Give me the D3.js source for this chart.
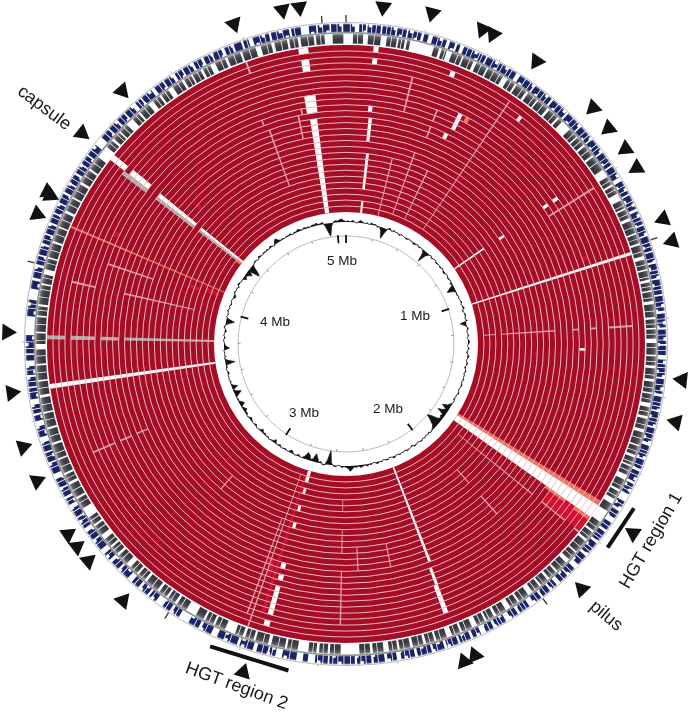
<!DOCTYPE html>
<html>
<head>
<meta charset="utf-8">
<script src="https://cdn.jsdelivr.net/npm/d3@7"></script>
<style>
    body { margin: 0; background: #fff; }
    svg { display: block; filter: blur(0.4px); }
    text { font-family: "Liberation Sans", Arial, sans-serif; fill: #1a1a1a; }
</style>
</head>
<body>
<div class="ring-container"></div>
<script>
// Data, positions are degrees clockwise round the map
const genomeMb = 5.06;
const ringCount = 28;
const mbTicks = [0, 1, 2, 3, 4, 5];
const mbLabels = ['', '1 Mb', '2 Mb', '3 Mb', '4 Mb', '5 Mb'];
const minorTicks = [0.2, 0.4, 0.6, 0.8, 1.2, 1.4, 1.6, 1.8, 2.2, 2.4, 2.6, 2.8, 3.2, 3.4, 3.6, 3.8, 4.2, 4.4, 4.6, 4.8];

// [start, end, first ring, last ring], ring 0 is the outermost
const whiteGaps = [
    [350.9, 352.7, 12, 27], [350.4, 353, 8, 10], [350.8, 352.7, 0, 0], [351, 352.6, 2, 3],
    [6.1, 7, 26, 27], [6, 6.9, 18, 23], [5.7, 6.6, 12, 15], [5.4, 6.4, 10, 10], [5.3, 6.3, 0, 0], [5.3, 6.3, 2, 2],
    [72.1, 72.7, 0, 27], [55, 55.6, 22, 27], [122.6, 125.3, 0, 27],
    [158.6, 159.3, 11, 27], [159, 159.7, 7, 9], [159.1, 160.1, 2, 6],
    [195.3, 196.7, 26, 27], [195.3, 196.3, 24, 24], [195.4, 196.4, 21, 21], [195.4, 196.4, 18, 18],
    [195.2, 196.4, 11, 11], [195, 196.2, 9, 9], [195.1, 196.2, 3, 7], [195.2, 196.4, 1, 1],
    [261.4, 262.3, 0, 27],
    [308, 309.2, 0, 2], [308, 309.3, 4, 7], [308, 309, 10, 17], [308, 308.9, 19, 27],
    [37.2, 37.9, 2, 2], [26, 27, 7, 9], [25, 26, 11, 11], [21, 22, 1, 1],
    [55, 55.8, 7, 7], [55, 55.8, 9, 9], [55.2, 56, 18, 18], [91, 91.6, 10, 10]
];
const greyBlocks = [
    [270.9, 271.7, 0, 2], [270.9, 271.7, 4, 7], [270.9, 271.7, 9, 11], [270.9, 271.7, 13, 27],
    [307.1, 308, 3, 7], [307.2, 308, 10, 17], [307.3, 308, 19, 26]
];
const paleLines = [
    [13.8, 14.2, 4, 9], [13.8, 14.2, 18, 27], [25, 25.4, 18, 26], [19.6, 20, 16, 26], [33.8, 34.1, 1, 26],
    [340.1, 340.5, 12, 21], [340.3, 340.7, 0, 1], [128.7, 129, 10, 25], [128.7, 129, 3, 7], [128.7, 129.1, 0, 0],
    [138.3, 138.7, 19, 21], [138.2, 138.6, 12, 15], [199, 199.3, 0, 26], [200, 200.3, 2, 18],
    [181, 181.3, 15, 18], [181, 181.3, 3, 11], [181, 181.3, 22, 23], [176.8, 177.1, 12, 15], [168.5, 168.8, 12, 15],
    [246.6, 247, 4, 7], [246.6, 247, 9, 10], [246.6, 247, 12, 13], [220.6, 221, 18, 20],
    [282.6, 283, 3, 6], [282.6, 283, 12, 23], [288.4, 288.8, 8, 15], [57.6, 58, 1, 9],
    [86.2, 86.6, 15, 20], [86.2, 86.6, 21, 23], [86.2, 86.6, 25, 26], [86.2, 86.6, 11, 11], [86.2, 86.6, 8, 8], [86.2, 86.6, 2, 5],
    [348, 348.4, 11, 14], [339.2, 339.6, 10, 10], [349, 349.4, 10, 10], [21.1, 21.5, 8, 9], [21.1, 21.5, 11, 12]
];
const salmonBlocks = [
    [292.9, 293.3, 0, 27], [121.6, 122.6, 0, 27], [125.3, 126, 0, 2], [125.3, 125.9, 5, 8],
    [27.8, 28.8, 7, 7], [306.8, 308.2, 27, 27]
];
const brightBlocks = [
    [351.5, 352.2, 3, 3], [196.8, 197.6, 3, 26], [198, 200, 11, 11], [198, 199, 9, 10], [294.9, 296.1, 7, 7],
    [289.8, 291, 22, 23], [290.5, 292, 25, 26], [312.5, 313.5, 16, 16], [69.8, 70.8, 7, 7], [125.4, 128.6, 0, 7]
];

// White gaps between genes in the two outer tracks
const blueGaps = [
    [342.2, 343], [346, 346.4], [349.7, 350.1], [351.8, 353.3], [354.6, 354.9], [357, 357.3], [359.2, 359.5], [1.6, 2.4], [3.6, 3.9],
    [6.3, 6.6], [9, 9.3], [11, 11.3], [13.7, 14.2], [15, 15.8], [18.4, 19], [20, 20.4], [21, 21.7], [26, 26.3], [32.2, 33], [36, 36.3],
    [40, 40.4], [43.6, 44], [47, 47.3], [50, 50.3], [53, 53.3], [56, 56.3], [58.6, 59.4], [62, 62.3], [65, 65.5], [68, 68.3], [70, 70.3],
    [73, 73.3], [75, 75.4], [78, 78.3], [81, 81.3], [84, 84.5], [87, 87.4], [90, 90.3], [92, 92.8], [96, 96.3], [99, 99.5], [102, 102.3],
    [105, 105.3], [108, 108.6], [111, 111.3], [113, 113.5], [115.5, 116], [118, 119.5], [121, 121.5], [123, 124], [125.5, 126], [128, 128.5],
    [131, 131.5], [133.5, 134.5], [136, 136.3], [138, 138.8], [140, 140.4], [142, 142.4], [144, 145], [147, 147.5], [149, 150], [152, 152.5],
    [154, 155], [156.5, 157], [159, 159.4], [161.5, 162], [164, 164.4], [167, 167.5], [170, 170.8], [172.5, 173], [175, 175.4], [178, 178.4],
    [183, 183.3], [185.6, 186.9], [187.8, 189], [191.6, 192.8], [194, 194.3], [196.3, 197], [199.5, 200], [203.8, 205], [207, 207.5],
    [209.5, 211.5], [213, 213.5], [215, 216.5], [218, 218.4], [220, 220.5], [222, 223], [225, 225.4], [227, 227.6], [229, 230], [232, 232.3],
    [234, 234.8], [237, 237.3], [239, 239.8], [241, 241.5], [243, 243.3], [245, 246], [248, 248.3], [250, 250.3], [252, 253], [255, 256],
    [257, 257.4], [259, 260], [262, 262.3], [264, 264.4], [266, 267], [268, 268.3], [271.6, 275], [278, 280], [281.5, 282], [284, 284.5],
    [286, 286.3], [288, 288.4], [290, 290.3], [292, 292.4], [294, 294.3], [296, 296.3], [298, 298.4], [300, 300.3], [302, 302.4], [304, 304.3],
    [306, 306.3], [308.5, 310.2], [312, 312.3], [314, 314.4], [316, 316.3], [318, 318.8], [320, 320.3], [322.5, 323.2], [325, 325.3],
    [327, 327.6], [329, 329.3], [331, 331.5], [333, 333.5], [335, 335.3], [337, 337.6], [339, 339.4], [340.8, 341.2]
];
const greyGaps = [
    [337, 337.5], [340, 340.4], [343, 344], [346, 346.6], [349, 349.4], [351, 351.5], [354, 354.4], [356, 357.5], [359.5, 360], [0, 1.3],
    [3.2, 4.1], [6.5, 7.6], [9.5, 9.8], [11, 11.4], [12, 16.5], [17.5, 18], [19, 20], [22, 22.3], [24.3, 24.9], [27, 27.3], [30.4, 31.4],
    [33, 33.4], [35.5, 36], [38, 38.3], [40.5, 41], [43, 43.4], [44.2, 46.2], [48, 48.3], [50, 50.4], [52.5, 52.9], [55.8, 57.4], [59, 59.4],
    [61, 62.4], [64, 64.3], [66, 66.6], [69, 69.3], [71, 71.4], [73.5, 74.2], [76, 76.3], [78, 78.5], [80, 80.3], [82, 82.6], [85, 85.4],
    [87, 87.3], [89, 89.8], [92, 92.3], [94, 94.5], [96.5, 97], [99, 99.3], [101, 101.8], [103.5, 104], [106, 106.6], [109, 109.3], [111, 111.5],
    [113, 113.3], [115, 116], [118, 118.4], [120, 121], [122.6, 125], [127, 127.4], [129, 129.5], [132, 132.3], [134, 134.8], [137, 137.4],
    [139, 139.5], [141, 141.4], [143, 144], [146, 146.4], [148, 149], [151, 151.5], [153, 153.4], [155, 156], [158, 158.4], [160, 161],
    [163, 163.4], [165, 165.5], [167.5, 168], [170, 170.4], [172, 173], [175, 175.5], [177.5, 181], [183, 183.4], [185, 185.5], [187, 189],
    [191, 191.4], [194, 194.6], [197, 197.4], [199, 199.5], [201, 203], [205, 205.4], [207, 207.4], [209, 211], [213, 213.5], [215, 215.4],
    [217, 217.5], [220, 220.5], [222, 222.4], [224, 225], [227, 227.5], [229, 229.4], [231, 232], [234, 234.4], [236, 238], [240, 240.4],
    [243, 243.5], [245, 245.4], [248, 248.3], [251, 251.4], [254, 254.4], [257, 257.3], [260, 260.5], [263, 263.3], [266, 266.3], [269, 270],
    [272, 272.3], [275, 275.3], [277, 277.4], [281, 281.3], [283, 284], [286, 286.3], [289, 289.4], [292, 292.3], [295, 295.5], [298, 298.3],
    [301, 301.5], [304, 304.4], [307, 309.5], [311, 311.5], [313, 313.3], [315, 316.5], [318, 318.4], [320.5, 321.5], [323, 323.4], [325, 326],
    [328, 328.5], [330, 330.3], [332, 332.5], [334, 335]
];

// Finer breaks in the gene tracks
const blueTicks = [
    0.7, 2.9, 4.6, 5.4, 7.3, 8.1, 10.2, 12.1, 12.9, 16.7, 17.6, 22.4, 23.3, 24.7, 25.2, 27.4, 28.6, 29.3, 30.5, 31.2, 34.1, 35.2, 37.4, 38.3, 39.1,
    41.5, 42.4, 45.2, 46.1, 48.3, 49.2, 51.4, 52.1, 54.3, 55.2, 57.4, 60.3, 61.2, 63.4, 64.1, 66.5, 67.2, 69.1, 71.4, 72.2, 74.3, 76.5, 77.2, 79.4,
    80.1, 82.3, 83.2, 85.4, 86.1, 88.3, 89.2, 91.1, 93.5, 94.2, 95.1, 97.3, 98.4, 100.5, 101.2, 103.4, 104.1, 106.3, 107.2, 109.5, 110.1, 112.3,
    114.2, 116.6, 117.3, 120.1, 122.2, 124.7, 126.8, 127.4, 129.6, 130.3, 132.4, 135.2, 137.1, 139.3, 141.2, 143.1, 145.6, 146.3, 148.2, 150.7,
    151.3, 153.2, 155.6, 157.8, 158.4, 160.3, 161.1, 163.2, 165.1, 166.2, 168.3, 169.2, 171.5, 174.1, 176.3, 177.2, 179.1, 180.3, 181.4, 182.3,
    184.1, 185.1, 190.2, 193.4, 195.2, 198.1, 201.3, 202.4, 206.1, 208.3, 212.2, 214.3, 217.4, 219.1, 221.3, 224.2, 226.1, 228.4, 231.1, 233.2,
    235.4, 236.2, 238.3, 240.4, 242.3, 244.2, 247.1, 249.2, 251.3, 254.1, 258.1, 261.2, 263.1, 265.2, 269.1, 270.3, 276.4, 277.2, 283.1, 285.2,
    287.3, 289.1, 291.2, 293.3, 295.1, 297.2, 299.3, 301.1, 303.2, 305.1, 307.2, 311.1, 313.2, 315.1, 317.2, 319.3, 321.2, 324.1, 326.2, 328.1,
    330.2, 332.1, 334.3, 336.2, 338.3, 341.8, 344.2, 345.1, 347.3, 348.4, 350.6, 355.7, 358.3
];
const greyTicks = [
    2.1, 5.2, 8.4, 10.3, 18.6, 21.1, 23.5, 25.8, 28.4, 29.6, 32.1, 34.6, 37.2, 39.4, 42.1, 47.2, 49.1, 51.3, 54.1, 58.2, 60.1, 63.4, 65.2, 67.8, 70.1,
    72.6, 75.1, 77.4, 79.2, 81.3, 83.8, 86.2, 88.1, 90.6, 93.2, 95.7, 98.1, 100.2, 102.6, 105.1, 107.7, 110.2, 112.4, 114.1, 117.2, 119.3, 126.1, 128.3,
    130.8, 133.1, 135.9, 138.2, 140.4, 142.3, 145.1, 147.3, 150.1, 152.4, 154.2, 157.1, 159.3, 162.1, 164.2, 166.3, 169.1, 171.2, 174.1, 176.4, 182.1,
    184.2, 186.1, 190.2, 192.6, 195.5, 198.2, 200.3, 204.1, 206.2, 212.1, 214.3, 216.1, 218.6, 221.1, 223.2, 226.1, 228.3, 230.1, 233.1, 235.2, 239.1,
    241.7, 244.2, 246.6, 249.3, 252.6, 255.7, 258.6, 261.7, 264.6, 267.7, 270.6, 273.6, 276.2, 278.7, 280.1, 282.3, 285.1, 287.6, 290.7, 293.6, 296.7,
    299.6, 302.7, 305.6, 310.3, 312.4, 314.2, 317.3, 319.4, 322.2, 324.2, 327.1, 329.3, 331.2, 333.2, 336.1, 338.7, 341.7, 345.1, 347.8, 350.2, 352.8, 355.2
];
// Notches where a gene does not reach the full height of the blue track
const blueOuterNotches = [
    1.1, 4.1, 8.6, 11.6, 17.1, 23.8, 27.9, 30, 35.7, 38.7, 42.9, 46.6, 49.7, 52.6, 57.9, 60.8, 63.9, 66, 69.6, 74.8, 77.7, 82.8, 85.9, 88.8, 93, 95.6, 97.8,
    101.7, 104.6, 107.7, 110.6, 114.7, 117, 120.6, 127.9, 130.8, 135.7, 139.8, 143.6, 148.7, 151.8, 155.2, 160.8, 163.7, 168.8, 171.9, 176.8, 180.8, 184.6,
    190.7, 193.8, 198.6, 201.8, 206.6, 212.7, 217, 219.6, 224.7, 228, 231.6, 235.9, 238.8, 242.8, 247.6, 251.8, 254.6, 258.6, 263.6, 265.7, 269.6, 276.9,
    283.6, 287.8, 291.7, 295.6, 299.8, 303.7, 307.7, 313.7, 317.7, 321.7, 326.7, 330.7, 334.8, 338.8, 344.7, 347.8, 355.2, 358.8
];
const blueInnerNotches = [
    3.2, 9.7, 12.5, 19.4, 24.2, 28.1, 33.4, 37, 41.1, 44.6, 48.8, 51, 54.8, 59.9, 62.8, 67.7, 71.9, 75.9, 79, 83.7, 86.6, 89.8, 94.7, 98.9, 103, 106.9,
    110.7, 112.9, 116.2, 119.9, 122.8, 129.2, 132.9, 136.6, 141.8, 146.8, 150.3, 153.8, 158, 162.6, 165.7, 169.8, 174.7, 177.7, 181.9, 188, 193, 198.7,
    202, 208.9, 214.8, 218.8, 223.4, 226.6, 233.7, 236.8, 240, 244.7, 249, 253.4, 256.3, 260.3, 264.6, 270.8, 275.4, 280.4, 285.7, 289.6, 293.9, 297.7,
    301.7, 305.6, 311.7, 315.6, 319.8, 324.6, 328.6, 332.7, 336.7, 343.4, 348.9, 353.6, 356.4
];

// GC skew, one value per degree, in half pixels off the baseline
const gcSkew = [
    1, 2, 0, 3, 1, -1, 2, 4, 1, 0,
    2, -1, 3, 1, 2, -2, 0, -6, -18, -8,
    1, 3, -1, 2, 0, 1, -2, 1, 0, -1,
    -2, 1, -1, 0, -3, -1, 1, -2, 0, -1,
    -4, -20, -6, -1, 1, -2, 0, 1, -2, -1,
    0, -2, 1, -1, -3, 0, 1, -2, -1, 1,
    -3, -1, -8, -14, -4, 0, -2, 1, -1, 0,
    2, -1, 1, 3, -2, 0, 2, 1, -1, 3,
    -10, -4, 1, 2, -1, 0, 2, -1, 1, 3,
    1, -1, 2, 0, -2, 1, 3, 0, -1, 2,
    1, -2, 0, 2, -1, 1, 0, 2, -1, 1,
    2, 0, -1, 1, 2, -1, 0, -2, 1, 0,
    -3, -6, -14, -5, -8, -16, -4, -6, -3, -7,
    -18, -24, -14, -6, -3, -1, 1, -2, 0, -1,
    1, -1, 2, 0, -1, 1, 2, -2, 0, 1,
    2, -1, 1, 0, 2, -1, 1, 3, 0, -1,
    2, 1, -1, 2, 0, 3, 1, -1, 2, 1,
    3, 1, 2, 4, 1, 3, 2, 5, 9, 4,
    2, 1, 3, -1, 0, 2, 1, -4, -24, -8,
    1, 2, -3, -1, -8, -14, -4, -2, -9, -12,
    -5, -1, 0, -3, -1, 1, -2, -5, -1, 0,
    -2, -1, 1, -3, -1, 0, -6, -2, -1, 1,
    -2, 0, -3, -1, -5, -2, 0, 1, -3, -1,
    0, -2, -4, -1, 1, -3, -2, -6, -3, -1,
    -8, -5, -1, -2, 0, -6, -12, -4, -1, -10,
    -3, 0, -2, 1, -1, 0, -3, -1, 1, -2,
    -1, -16, -6, 1, -2, 0, -1, 1, -9, -3,
    -1, 0, 1, -2, 1, 0, -3, -1, 2, 0,
    -6, -14, -3, 1, -1, 0, 2, -1, 1, -2,
    0, 1, -1, -4, -1, 2, 0, 1, -2, 3,
    1, -1, 0, -6, -2, -5, -10, -3, -20, -14,
    -3, 0, 2, 1, -1, 3, 1, 0, 2, 1,
    2, 0, 3, 1, -1, 5, 8, 3, 1, 2,
    0, 2, 1, 3, -1, 2, 1, 4, 2, 0,
    3, 1, 2, 0, 3, 2, 4, 1, 2, 3,
    -4, -14, -22, -6, 1, 3, 2, 4, 5, 2
];

// Marker triangles, [position, distance from the centre]
const arrows = [
    [340.7, 339], [349.2, 340], [352.1, 340], [6.3, 339], [14.6, 342], [23.5, 343], [25.4, 343], [34, 341], [46.3, 342], [50.6, 340],
    [55.1, 341], [58.8, 340], [68.5, 341], [72.5, 342], [96.1, 338], [103.3, 339], [123.4, 344], [136.1, 340], [157.5, 337], [159.6, 339],
    [197.4, 344], [221, 340], [229.9, 337], [233, 337], [235.6, 337], [246.1, 338], [252.3, 339], [261.7, 338], [272, 339], [292.8, 335],
    [297, 335], [296.7, 331], [308.6, 338], [318.5, 338]
];
const hgtBars = [[119.7, 127.9], [190, 204.2]];

// Set up the page, the chart is centred on the map origin
const svgWidth = 690;
const svgHeight = 714;
const centre = { x: 346, y: 344 };

const svg = d3.select('.ring-container')
    .append('svg')
    .attr('width', svgWidth)
    .attr('height', svgHeight);

const chart = svg.append('g')
    .attr('transform', 'translate(' + centre.x + ',' + centre.y + ')');

// Scales
const angle = d3.scaleLinear().domain([0, 360]).range([0, 2 * Math.PI]);
const mbAngle = d3.scaleLinear().domain([0, genomeMb]).range([0, 2 * Math.PI]);
const ringR = d3.scaleLinear().domain([0, ringCount]).range([299, 132]);
const gcIndex = d3.scaleLinear().domain([0, gcSkew.length]).range([0, 2 * Math.PI]);
const gcR = d3.scaleLinear().domain([-24, 24]).range([107.6, 136.4]);

const arc = d3.arc();

// Gradients for the gene tracks
function addGradient(id, stops) {
    const grad = svg.append('defs').append('radialGradient')
        .attr('id', id)
        .attr('gradientUnits', 'userSpaceOnUse')
        .attr('cx', 0).attr('cy', 0).attr('fx', 0).attr('fy', 0)
        .attr('r', 322);
    stops.forEach(s => grad.append('stop').attr('offset', s[0] / 322).attr('stop-color', s[1]));
}
addGradient('blueTrack', [[311.5, '#8a8cc0'], [313, '#1c2569'], [318.5, '#19225f'], [320.5, '#7478b0']]);
addGradient('greyTrack', [[300, '#35353e'], [305, '#3c3c44'], [308.5, '#5c5c62'], [310.5, '#a4a4a4']]);

// Gene tracks, a coloured ring with the gaps cut out in white
function drawTrack(gaps, inner, outer, fill) {
    chart.append('path')
        .attr('d', arc({ innerRadius: inner, outerRadius: outer, startAngle: 0, endAngle: 2 * Math.PI }))
        .style('fill', fill);
    drawCuts(gaps, inner - 0.5, outer + 0.5);
}
function drawCuts(gaps, inner, outer) {
    chart.append('g').selectAll('path')
        .data(gaps)
        .enter()
        .append('path')
        .attr('d', d => arc({ innerRadius: inner, outerRadius: outer, startAngle: angle(d[0]), endAngle: angle(d[1]) }))
        .style('fill', '#fff');
}
const thin = (ticks, w) => ticks.map(t => [t, t + w]);

drawTrack(blueGaps, 312, 320.5, 'url(#blueTrack)');
drawCuts(thin(blueTicks, 0.15), 311.5, 321);
drawCuts(thin(blueOuterNotches, 0.6), 317.5, 321);
drawCuts(thin(blueInnerNotches, 0.6), 311.5, 314);
drawTrack(greyGaps, 300.5, 310.5, 'url(#greyTrack)');
drawCuts(thin(greyTicks, 0.14), 300, 311);

chart.append('circle').attr('r', 321.5).style('fill', 'none').style('stroke', '#b8b8b8').style('stroke-width', 1);
chart.append('circle').attr('r', 311.3).style('fill', 'none').style('stroke', '#8c8c8c').style('stroke-width', 1.5);

// Red disc of the comparison rings
chart.append('path')
    .attr('d', arc({ innerRadius: ringR(ringCount), outerRadius: ringR(0), startAngle: 0, endAngle: 2 * Math.PI }))
    .style('fill', '#a50d27');

function drawBlocks(blocks, fill) {
    chart.append('g').selectAll('path')
        .data(blocks)
        .enter()
        .append('path')
        .attr('d', d => arc({
            innerRadius: ringR(d[3] + 1),
            outerRadius: ringR(d[2]),
            startAngle: angle(d[0]),
            endAngle: angle(d[1])
        }))
        .style('fill', fill);
}
drawBlocks(brightBlocks, '#d40f30');
drawBlocks(salmonBlocks, '#ee7460');
drawBlocks(paleLines, '#e39aa4');
drawBlocks(greyBlocks, '#b5abab');
drawBlocks(whiteGaps, '#fff');

// Separators between the rings
chart.append('g').selectAll('circle')
    .data(d3.range(1, ringCount))
    .enter()
    .append('circle')
    .attr('r', d => ringR(d))
    .style('fill', 'none')
    .style('stroke', '#ebb9bd')
    .style('stroke-width', 1);

// GC skew
const gcArea = d3.areaRadial()
    .angle((d, i) => gcIndex(i))
    .innerRadius(gcR(0))
    .outerRadius(d => gcR(d))
    .curve(d3.curveLinearClosed);

const gcLine = d3.lineRadial()
    .angle((d, i) => gcIndex(i))
    .radius(d => gcR(d))
    .curve(d3.curveLinearClosed);

chart.append('path').attr('d', gcArea(gcSkew)).style('fill', '#111');
chart.append('path').attr('d', gcLine(gcSkew)).style('fill', 'none').style('stroke', '#111').style('stroke-width', 0.7);

// Inner scale circle and ticks
chart.append('circle').attr('r', 108).style('fill', 'none').style('stroke', '#aaa').style('stroke-width', 0.8);

function tickLine(sel, r0, r1) {
    sel.attr('x1', d => r0 * Math.sin(mbAngle(d)))
        .attr('y1', d => -r0 * Math.cos(mbAngle(d)))
        .attr('x2', d => r1 * Math.sin(mbAngle(d)))
        .attr('y2', d => -r1 * Math.cos(mbAngle(d)));
}
chart.append('g').selectAll('line').data(minorTicks).enter().append('line')
    .call(tickLine, 105.5, 108).style('stroke', '#777').style('stroke-width', 0.8);
chart.append('g').selectAll('line').data(mbTicks).enter().append('line')
    .call(tickLine, 101, 109).style('stroke', '#111').style('stroke-width', 1.8);
chart.append('g').selectAll('line').data(mbTicks).enter().append('line')
    .call(tickLine, 322, 329).style('stroke', '#2e3a22').style('stroke-width', 1.3);
chart.append('g').selectAll('line').data(minorTicks).enter().append('line')
    .call(tickLine, 322, 324).style('stroke', '#999').style('stroke-width', 0.7);

// Mb labels sit just inside their ticks
const mbLabelOffset = [null, [69, -29], [42, 64], [-42, 68], [-71, -23], [-4, -84]];
chart.append('g').selectAll('text')
    .data(mbTicks.slice(1))
    .enter()
    .append('text')
    .attr('x', d => mbLabelOffset[d][0])
    .attr('y', d => mbLabelOffset[d][1] + 5)
    .attr('text-anchor', 'middle')
    .style('font-size', '13.5px')
    .text(d => mbLabels[d]);

// Marker triangles point at the centre
chart.append('g').selectAll('path')
    .data(arrows)
    .enter()
    .append('path')
    .attr('d', d3.symbol(d3.symbolTriangle, 125))
    .attr('transform', d => {
        const a = angle(d[0]);
        return 'translate(' + d[1] * Math.sin(a) + ',' + (-d[1] * Math.cos(a)) + ') rotate(' + (d[0] + 180) + ')';
    })
    .style('fill', '#111');

// HGT bars are straight chords
chart.append('g').selectAll('line')
    .data(hgtBars)
    .enter()
    .append('line')
    .attr('x1', d => 331.5 * Math.sin(angle(d[0])))
    .attr('y1', d => -331.5 * Math.cos(angle(d[0])))
    .attr('x2', d => 331.5 * Math.sin(angle(d[1])))
    .attr('y2', d => -331.5 * Math.cos(angle(d[1])))
    .style('stroke', '#111')
    .style('stroke-width', 4);

// Annotations
const notes = [
    { label: 'capsule', x: 45, y: 107, rot: 37, size: 18 },
    { label: 'pilus', x: 607, y: 615, rot: 40, size: 18 },
    { label: 'HGT region 1', x: 650, y: 540, rot: -60, size: 18 },
    { label: 'HGT region 2', x: 237, y: 685, rot: 20, size: 18 }
];
svg.append('g').selectAll('text')
    .data(notes)
    .enter()
    .append('text')
    .attr('transform', d => 'translate(' + d.x + ',' + d.y + ') rotate(' + d.rot + ')')
    .attr('text-anchor', 'middle')
    .attr('dy', '0.35em')
    .style('font-size', d => d.size + 'px')
    .text(d => d.label);
</script>
</body>
</html>
